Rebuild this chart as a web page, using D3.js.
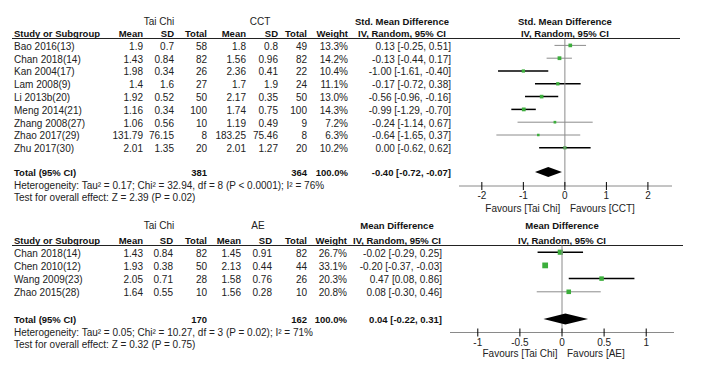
<!DOCTYPE html>
<html>
<head>
<meta charset="utf-8">
<script src="https://cdn.jsdelivr.net/npm/d3@7"></script>
<style>
  body { margin: 0; background: #fff; }
  svg text { font-family: "Liberation Sans", Arial, sans-serif; font-size: 10px; fill: #222; }
  svg text.b { font-weight: bold; font-size: 9.5px; fill: #111; }
</style>
</head>
<body>
<div id="chart"></div>
<script>
// ---- panel 1: Tai Chi vs CCT (std. mean difference)
const studies1 = ['Bao 2016(13)', 'Chan 2018(14)', 'Kan 2004(17)', 'Lam 2008(9)', 'Li 2013b(20)',
  'Meng 2014(21)', 'Zhang 2008(27)', 'Zhao 2017(29)', 'Zhu 2017(30)'];
const tcMean1 = ['1.9', '1.43', '1.98', '1.4', '1.92', '1.16', '1.06', '131.79', '2.01'];
const tcSd1 = ['0.7', '0.84', '0.34', '1.6', '0.52', '0.34', '0.56', '76.15', '1.35'];
const tcN1 = [58, 82, 26, 27, 50, 100, 10, 8, 20];
const ctMean1 = ['1.8', '1.56', '2.36', '1.7', '2.17', '1.74', '1.19', '183.25', '2.01'];
const ctSd1 = ['0.8', '0.96', '0.41', '1.9', '0.35', '0.75', '0.49', '75.46', '1.27'];
const ctN1 = [49, 82, 22, 24, 50, 100, 9, 8, 20];
const weight1 = [13.3, 14.2, 10.4, 11.1, 13.0, 14.3, 7.2, 6.3, 10.2];
const est1 = [0.13, -0.13, -1.00, -0.17, -0.56, -0.99, -0.24, -0.64, 0.00];
const lo1 = [-0.25, -0.44, -1.61, -0.72, -0.96, -1.29, -1.14, -1.65, -0.62];
const hi1 = [0.51, 0.17, -0.40, 0.38, -0.16, -0.70, 0.67, 0.37, 0.62];
const total1 = { tcN: 381, ctN: 364, est: -0.40, lo: -0.72, hi: -0.07 };
const ticks1 = [-2, -1, 0, 1, 2];
const het1 = 'Heterogeneity: Tau² = 0.17; Chi² = 32.94, df = 8 (P < 0.0001); I² = 76%';
const test1 = 'Test for overall effect: Z = 2.39 (P = 0.02)';

// ---- panel 2: Tai Chi vs AE (mean difference)
const studies2 = ['Chan 2018(14)', 'Chen 2010(12)', 'Wang 2009(23)', 'Zhao 2015(28)'];
const tcMean2 = ['1.43', '1.93', '2.05', '1.64'];
const tcSd2 = ['0.84', '0.38', '0.71', '0.55'];
const tcN2 = [82, 50, 28, 10];
const ctMean2 = ['1.45', '2.13', '1.58', '1.56'];
const ctSd2 = ['0.91', '0.44', '0.76', '0.28'];
const ctN2 = [82, 44, 26, 10];
const weight2 = [26.7, 33.1, 20.3, 20.8];
const est2 = [-0.02, -0.20, 0.47, 0.08];
const lo2 = [-0.29, -0.37, 0.08, -0.30];
const hi2 = [0.25, -0.03, 0.86, 0.46];
const total2 = { tcN: 170, ctN: 162, est: 0.04, lo: -0.22, hi: 0.31 };
const ticks2 = [-1, -0.5, 0, 0.5, 1];
const het2 = 'Heterogeneity: Tau² = 0.05; Chi² = 10.27, df = 3 (P = 0.02); I² = 71%';
const test2 = 'Test for overall effect: Z = 0.32 (P = 0.75)';

// CI lines that come out light grey in the source image (Chen's is not visible at all)
const faintCi = ['Bao 2016(13)', 'Chan 2018(14)|1', 'Zhang 2008(27)', 'Zhao 2017(29)', 'Zhao 2015(28)'];
const hiddenCi = ['Chen 2010(12)'];

const svg = d3.select('#chart').append('svg').attr('width', 712).attr('height', 367);

function fmt2(v) { return v.toFixed(2); }
function ciText(e, l, h) { return `${fmt2(e)} [${fmt2(l)}, ${fmt2(h)}]`; }

function drawPanel(p) {
  const g = svg.append('g');
  const cols = p.cols; // right edges: mean, sd, total, mean, sd, total, weight

  // group headers
  g.append('text').attr('x', p.grpX[0]).attr('y', p.yGrp).attr('dy', '0.35em')
    .attr('text-anchor', 'middle').text('Tai Chi');
  g.append('text').attr('x', p.grpX[1]).attr('y', p.yGrp).attr('dy', '0.35em')
    .attr('text-anchor', 'middle').text(p.ctrl);
  g.append('text').attr('class', 'b').attr('x', p.ciHeadX).attr('y', p.yGrp).attr('dy', '0.35em')
    .attr('text-anchor', 'middle').text(p.measure);
  g.append('text').attr('class', 'b').attr('x', p.x(0)).attr('y', p.yGrp).attr('dy', '0.35em')
    .attr('text-anchor', 'middle').text(p.measure);

  // column headers
  g.append('text').attr('class', 'b').attr('x', 14).attr('y', p.yHead).attr('dy', '0.35em').text('Study or Subgroup');
  ['Mean', 'SD', 'Total', 'Mean', 'SD', 'Total', 'Weight'].forEach((h, i) => {
    g.append('text').attr('class', 'b').attr('x', cols[i]).attr('y', p.yHead).attr('dy', '0.35em')
      .attr('text-anchor', 'end').text(h);
  });
  g.append('text').attr('class', 'b').attr('x', p.ciHeadX).attr('y', p.yHead).attr('dy', '0.35em')
    .attr('text-anchor', 'middle').text('IV, Random, 95% CI');
  g.append('text').attr('class', 'b').attr('x', p.x(0)).attr('y', p.yHead).attr('dy', '0.35em')
    .attr('text-anchor', 'middle').text('IV, Random, 95% CI');

  g.append('line').attr('x1', 12).attr('x2', p.lineEnd).attr('y1', p.yLine).attr('y2', p.yLine)
    .attr('stroke', '#222').attr('stroke-width', 1);

  // study rows
  const rows = p.studies.map((s, i) => ({
    s, i,
    cells: [p.tcMean[i], p.tcSd[i], p.tcN[i], p.ctMean[i], p.ctSd[i], p.ctN[i], p.weight[i].toFixed(1) + '%'],
    w: p.weight[i], e: p.est[i], l: p.lo[i], h: p.hi[i]
  }));

  const row = g.selectAll('.row').data(rows).join('g').attr('class', 'row')
    .attr('transform', (d) => `translate(0,${p.y(d.i)})`);

  row.append('text').attr('x', 14).attr('dy', '0.35em').text((d) => d.s);
  row.each(function (d) {
    d3.select(this).selectAll('.cell').data(d.cells).join('text').attr('class', 'cell')
      .attr('x', (c, j) => cols[j]).attr('dy', '0.35em').attr('text-anchor', 'end').text((c) => c);
  });
  row.append('text').attr('x', p.ciX).attr('dy', '0.35em').attr('text-anchor', 'end')
    .text((d) => ciText(d.e, d.l, d.h));

  // zero line
  g.append('line').attr('x1', p.x(0)).attr('x2', p.x(0)).attr('y1', p.yLine).attr('y2', p.yAxis)
    .attr('stroke', '#8a8a8a').attr('stroke-width', 1);

  // CI whiskers + weighted squares
  const faint = (d) => faintCi.includes(d.s) || faintCi.includes(d.s + '|' + p.id);
  row.append('line')
    .attr('x1', (d) => p.x(d.l)).attr('x2', (d) => p.x(d.h)).attr('y1', -0.8).attr('y2', -0.8)
    .attr('stroke', (d) => faint(d) ? '#8c8c8c' : '#000')
    .attr('stroke-width', (d) => faint(d) ? 1 : 1.5)
    .attr('opacity', (d) => hiddenCi.includes(d.s) ? 0 : 1);
  row.append('rect')
    .attr('x', (d) => p.x(d.e) - Math.sqrt(d.w) / 2)
    .attr('y', (d) => -0.8 - Math.sqrt(d.w) / 2)
    .attr('width', (d) => Math.sqrt(d.w)).attr('height', (d) => Math.sqrt(d.w))
    .attr('fill', '#3cae3c');

  // total row
  const t = p.total;
  g.append('text').attr('class', 'b').attr('x', 14).attr('y', p.yTotal).attr('dy', '0.35em').text('Total (95% CI)');
  [[cols[2], t.tcN], [cols[5], t.ctN], [cols[6], '100.0%']].forEach(([x, v]) => {
    g.append('text').attr('class', 'b').attr('x', x).attr('y', p.yTotal).attr('dy', '0.35em')
      .attr('text-anchor', 'end').text(v);
  });
  g.append('text').attr('class', 'b').attr('x', p.ciX).attr('y', p.yTotal).attr('dy', '0.35em')
    .attr('text-anchor', 'end').text(ciText(t.est, t.lo, t.hi));
  const dh = p.diamondH;
  g.append('path')
    .attr('d', `M${p.x(t.lo)},${p.yTotal - 1} L${p.x(t.est)},${p.yTotal - 1 - dh} L${p.x(t.hi)},${p.yTotal - 1} L${p.x(t.est)},${p.yTotal - 1 + dh}Z`)
    .attr('fill', '#000');

  g.append('text').attr('x', 14).attr('y', p.yTotal + p.noteGap).attr('dy', '0.35em').text(p.het);
  g.append('text').attr('x', 14).attr('y', p.yTotal + 2 * p.noteGap).attr('dy', '0.35em').text(p.test);

  // axis
  const ax = g.append('g').attr('transform', `translate(0,${p.yAxis})`);
  ax.append('line').attr('x1', p.x.range()[0]).attr('x2', p.x.range()[1])
    .attr('stroke', '#8a8a8a').attr('stroke-width', 1);
  const tk = ax.selectAll('.tk').data(p.ticks).join('g').attr('class', 'tk')
    .attr('transform', (d) => `translate(${p.x(d)},0)`);
  tk.append('line').attr('y1', -4).attr('y2', 4).attr('stroke', '#000').attr('stroke-width', 1);
  tk.append('text').attr('y', p.tickLabelDy).attr('dy', '0.35em').attr('text-anchor', 'middle')
    .text((d) => d3.format('')(d).replace('−', '-'));

  g.append('text').attr('x', p.x(0) - 4.5).attr('y', p.yFav).attr('dy', '0.35em')
    .attr('text-anchor', 'end').text('Favours [Tai Chi]');
  g.append('text').attr('x', p.x(0) + 5).attr('y', p.yFav).attr('dy', '0.35em')
    .text(`Favours [${p.ctrl}]`);
}

drawPanel({
  id: 1, ctrl: 'CCT', measure: 'Std. Mean Difference',
  studies: studies1, tcMean: tcMean1, tcSd: tcSd1, tcN: tcN1,
  ctMean: ctMean1, ctSd: ctSd1, ctN: ctN1, weight: weight1,
  est: est1, lo: lo1, hi: hi1, total: total1, ticks: ticks1, het: het1, test: test1,
  cols: [143, 174, 207, 246, 278, 307, 348], grpX: [159, 260], ciHeadX: 402, ciX: 451,
  x: d3.scaleLinear().domain([-2.55, 2.58]).range([459, 672]),
  y: d3.scaleLinear().domain([0, 1]).range([46.2, 59]),
  yGrp: 21.5, yHead: 33.5, yLine: 38.5, yTotal: 173, noteGap: 12.3,
  yAxis: 186, tickLabelDy: 9, yFav: 208, diamondH: 5, lineEnd: 680
});

drawPanel({
  id: 2, ctrl: 'AE', measure: 'Mean Difference',
  studies: studies2, tcMean: tcMean2, tcSd: tcSd2, tcN: tcN2,
  ctMean: ctMean2, ctSd: ctSd2, ctN: ctN2, weight: weight2,
  est: est2, lo: lo2, hi: hi2, total: total2, ticks: ticks2, het: het2, test: test2,
  cols: [143, 173, 207, 241, 272, 307, 347], grpX: [159, 258], ciHeadX: 397, ciX: 442,
  x: d3.scaleLinear().domain([-1.33, 1.33]).range([450, 674]),
  y: d3.scaleLinear().domain([0, 1]).range([253, 266.2]),
  yGrp: 225.5, yHead: 240.5, yLine: 245.5, yTotal: 320, noteGap: 12.2,
  yAxis: 332.5, tickLabelDy: 10, yFav: 353, diamondH: 5.5, lineEnd: 683
});
</script>
</body>
</html>
